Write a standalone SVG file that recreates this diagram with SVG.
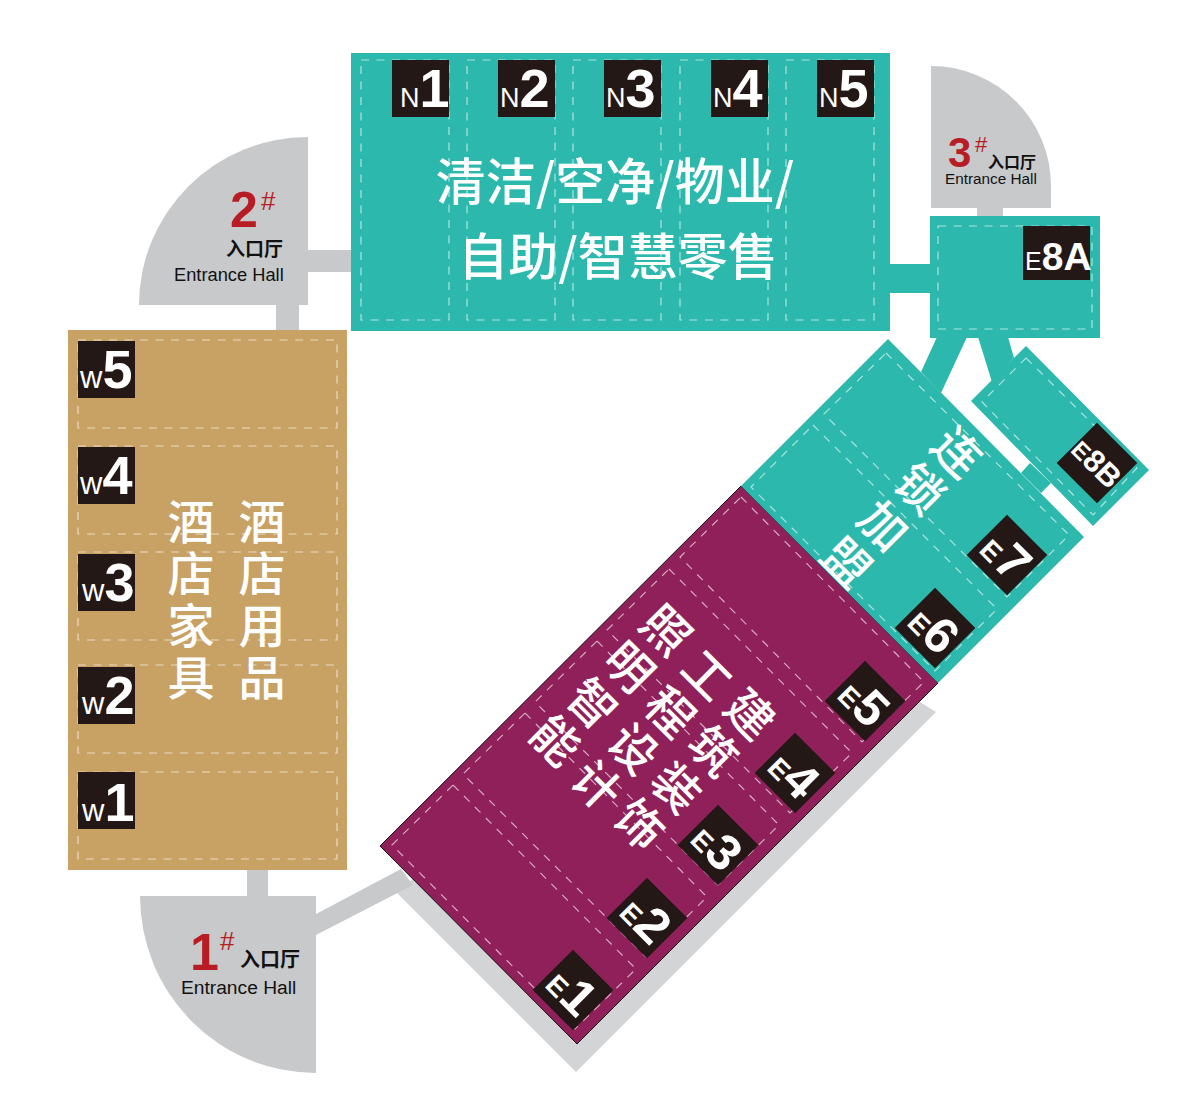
<svg xmlns="http://www.w3.org/2000/svg" width="1180" height="1118" viewBox="0 0 1180 1118">
<style>
.gray{fill:#c8c9cb}.teal{fill:#2cb8ac}.tan{fill:#c8a165}.mag{fill:#90205a;stroke:#111;stroke-width:1}
.shadow{fill:#d3d4d5}.blk{fill:#231815}
.dash{fill:none;stroke:#fff;stroke-opacity:.62;stroke-width:1.2;stroke-dasharray:8 7.5}
text{font-family:"Liberation Sans","Noto Sans CJK SC",sans-serif}
.lab{fill:#fff;font-weight:700}
.s{font-size:27px;font-weight:400}.b{font-size:54px}
.w{font-size:31px;font-weight:400}
.e{fill:#fff;font-weight:700;text-anchor:middle}.es{font-size:28px}.eb{font-size:50px}
.cn{fill:#fff;font-family:"Noto Sans CJK SC",sans-serif;font-size:50px;font-weight:500}
.v{fill:#fff;font-family:"Noto Sans CJK SC",sans-serif;font-size:47px;font-weight:500;writing-mode:vertical-rl;letter-spacing:5px}
.red{fill:#b81c25}.rb{font-weight:700}
.k{fill:#111;font-family:"Noto Sans CJK SC",sans-serif;font-weight:700}
.en{fill:#111}
</style>
<g id="shadow"><polygon class="shadow" points="397,893 576,1072 936,712 912,697 500,800"/></g>
<g id="connectors">
<rect class="gray" x="308" y="250" width="44" height="22"/>
<rect class="gray" x="276" y="304" width="23" height="27"/>
<rect class="gray" x="247" y="869" width="21" height="28"/>
<polygon class="gray" points="316,914 401,869 413,885 316,935"/>
<rect class="gray" x="977" y="207" width="26" height="10"/>
<rect class="teal" x="889" y="264" width="42" height="29"/>
<polygon class="teal" points="937,337 967,337 941,393 921,372"/>
<polygon class="teal" points="978,337 1008,337 1014,358 992,382"/>
<polygon class="teal" points="1021,473 1030,463 1051,483 1041,493"/>
</g>
<g id="hall-2">
<path class="gray" d="M308 137A169 168 0 0 0 139 305H308Z"/>
<text class="red rb" x="230" y="227" font-size="50">2</text>
<text class="red" x="261" y="210" font-size="26">#</text>
<text class="k" x="226" y="256" font-size="19">入口厅</text>
<text class="en" x="174" y="281" font-size="18.3">Entrance Hall</text>
</g>
<g id="hall-3">
<path class="gray" d="M931 66A120 120 0 0 1 1051 186V208H931Z"/>
<text class="red rb" x="948" y="167" font-size="42">3</text>
<text class="red" x="975" y="152" font-size="22">#</text>
<text class="k" x="988" y="168" font-size="16">入口厅</text>
<text class="en" x="945" y="184" font-size="15.3">Entrance Hall</text>
</g>
<g id="hall-1">
<path class="gray" d="M140 896H316V1073A176 177 0 0 1 140 896Z"/>
<text class="red rb" x="190" y="970" font-size="52">1</text>
<text class="red" x="220" y="950" font-size="26">#</text>
<text class="k" x="240" y="967" font-size="20">入口厅</text>
<text class="en" x="181" y="994" font-size="19.2">Entrance Hall</text>
</g>
<g id="hall-north">
<rect class="teal" x="351" y="53" width="539" height="278"/>
<rect class="dash" x="361" y="60" width="88" height="260"/>
<rect class="dash" x="467" y="60" width="88" height="260"/>
<rect class="dash" x="573" y="60" width="88" height="260"/>
<rect class="dash" x="680" y="60" width="88" height="260"/>
<rect class="dash" x="786" y="60" width="88" height="260"/>
<rect class="blk" x="392" y="60" width="57" height="57"/>
<rect class="blk" x="498" y="60" width="57" height="57"/>
<rect class="blk" x="604" y="60" width="57" height="57"/>
<rect class="blk" x="711" y="60" width="57" height="57"/>
<rect class="blk" x="817" y="60" width="57" height="57"/>
<text class="lab" x="400" y="107"><tspan class="s">N</tspan><tspan class="b">1</tspan></text>
<text class="lab" x="500" y="107"><tspan class="s">N</tspan><tspan class="b">2</tspan></text>
<text class="lab" x="606" y="107"><tspan class="s">N</tspan><tspan class="b">3</tspan></text>
<text class="lab" x="713" y="107"><tspan class="s">N</tspan><tspan class="b">4</tspan></text>
<text class="lab" x="819" y="107"><tspan class="s">N</tspan><tspan class="b">5</tspan></text>
<text class="cn" x="615" y="200" text-anchor="middle">清洁/空净/物业/</text>
<text class="cn" x="618" y="275" text-anchor="middle">自助/智慧零售</text>
</g>
<g id="hall-e8a">
<rect class="teal" x="930" y="216" width="170" height="122"/>
<rect class="dash" x="938" y="226" width="154" height="103"/>
<rect class="blk" x="1023" y="226" width="67" height="54"/>
<text class="lab" x="1025" y="270"><tspan font-size="25" font-weight="400">E</tspan><tspan font-size="39">8A</tspan></text>
</g>
<g id="hall-west">
<rect class="tan" x="68" y="330" width="279" height="540"/>
<rect class="dash" x="78" y="340" width="259" height="88"/>
<rect class="dash" x="78" y="446" width="259" height="88"/>
<rect class="dash" x="78" y="552" width="259" height="88"/>
<rect class="dash" x="78" y="665" width="259" height="88"/>
<rect class="dash" x="78" y="772" width="259" height="87"/>
<rect class="blk" x="78" y="341" width="57" height="57"/>
<rect class="blk" x="78" y="447" width="57" height="57"/>
<rect class="blk" x="78" y="554" width="57" height="57"/>
<rect class="blk" x="78" y="667" width="57" height="57"/>
<rect class="blk" x="78" y="772" width="57" height="57"/>
<text class="lab" x="80" y="388"><tspan class="w">w</tspan><tspan class="b">5</tspan></text>
<text class="lab" x="80" y="494"><tspan class="w">w</tspan><tspan class="b">4</tspan></text>
<text class="lab" x="82" y="601"><tspan class="w">w</tspan><tspan class="b">3</tspan></text>
<text class="lab" x="82" y="714"><tspan class="w">w</tspan><tspan class="b">2</tspan></text>
<text class="lab" x="82" y="821"><tspan class="w">w</tspan><tspan class="b">1</tspan></text>
<text class="v" x="191" y="498">酒店家具</text>
<text class="v" x="262" y="498">酒店用品</text>
</g>
<g id="hall-east-magenta">
<polygon class="mag" points="380,846 741,486 938,683 577,1044"/>
<polygon class="dash" points="741,497 924,682 862,742 680,557"/>
<polygon class="dash" points="669,569 852,753 790,813 607,630"/>
<polygon class="dash" points="597,641 779,825 718,885 535,702"/>
<polygon class="dash" points="525,713 707,897 646,957 463,774"/>
<polygon class="dash" points="453,785 636,969 575,1029 392,845"/>
<g transform="translate(865,701) rotate(45)"><rect class="blk" x="-28.5" y="-28.5" width="57" height="57"/><text class="e" y="18"><tspan class="es">E</tspan><tspan class="eb">5</tspan></text></g>
<g transform="translate(795,773) rotate(45)"><rect class="blk" x="-28.5" y="-28.5" width="57" height="57"/><text class="e" y="18"><tspan class="es">E</tspan><tspan class="eb">4</tspan></text></g>
<g transform="translate(718,845) rotate(45)"><rect class="blk" x="-28.5" y="-28.5" width="57" height="57"/><text class="e" y="18"><tspan class="es">E</tspan><tspan class="eb">3</tspan></text></g>
<g transform="translate(647,918) rotate(45)"><rect class="blk" x="-28.5" y="-28.5" width="57" height="57"/><text class="e" y="18"><tspan class="es">E</tspan><tspan class="eb">2</tspan></text></g>
<g transform="translate(573,990) rotate(45)"><rect class="blk" x="-28.5" y="-28.5" width="57" height="57"/><text class="e" y="18"><tspan class="es">E</tspan><tspan class="eb">1</tspan></text></g>
<text class="v" transform="translate(683,613) rotate(45)">照明智能</text>
<text class="v" transform="translate(724,658) rotate(45)">工程设计</text>
<text class="v" transform="translate(767,697) rotate(45)">建筑装饰</text>
</g>
<g id="hall-east-teal">
<polygon class="teal" points="741,486 888,339 1084,537 938,683"/>
<polygon class="dash" points="813,425 997,609 935,671 751,487"/>
<polygon class="dash" points="886,353 1069,535 1007,597 824,414"/>
<g transform="translate(935,628) rotate(45)"><rect class="blk" x="-28.5" y="-28.5" width="57" height="57"/><text class="e" y="18"><tspan class="es">E</tspan><tspan class="eb">6</tspan></text></g>
<g transform="translate(1007,555) rotate(45)"><rect class="blk" x="-28.5" y="-28.5" width="57" height="57"/><text class="e" y="18"><tspan class="es">E</tspan><tspan class="eb">7</tspan></text></g>
<text class="v" transform="translate(974,435) rotate(45)">连锁加盟</text>
</g>
<g id="hall-e8b">
<polygon class="teal" points="1026,346 1149,470 1093,526 971,401"/>
<polygon class="dash" points="1026,358 1137,468 1093,515 982,402"/>
<g transform="translate(1097,463) rotate(45)"><rect class="blk" x="-28.5" y="-28.5" width="57" height="57"/><text class="e" y="11"><tspan font-size="24">E</tspan><tspan font-size="31">8B</tspan></text></g>
</g>
</svg>
